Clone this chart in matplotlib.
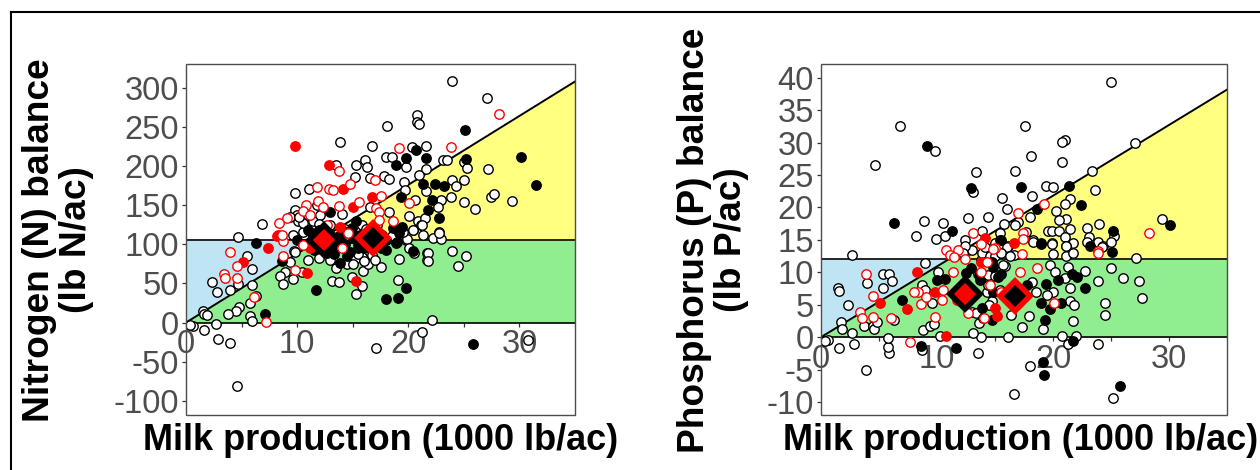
import numpy as np
import matplotlib
matplotlib.use("Agg")
import matplotlib.pyplot as plt
from matplotlib.lines import Line2D
from matplotlib.patches import Rectangle

plt.rcParams['font.family'] = ['Liberation Sans', 'DejaVu Sans']
plt.rcParams['axes.unicode_minus'] = False

# Nitrogen panel, values (milk, balance)
n_open = [(23.95,308),(27.07,286),(20.8,265),(20.8,256),(21.0,254),(18.1,251),(13.85,230.4),(16.76,225),
    (20.3,224),(21.6,225),(17.96,211.7),(18.5,211),(19.8,199),(16.07,207.4),(15.3,200.6),(16.3,198),
    (15.2,186),(16.6,185),(17.8,187.4),(18.3,182.7),(19.6,179.7),(19.7,169.5),(11.1,170.7),(9.83,164.8),
    (9.8,144),(9.95,137),(10.1,129.4),(10.8,127.7),(11.45,129),(12.1,137),(14.06,138),(13.5,201.4),
    (21.6,196),(21.0,188.6),(23.1,207.4),(23.5,207.4),(25,205),(25.3,197),(27.2,196),(23.9,181.8),
    (25,181.4),(24.3,173.7),(21.6,168),(20.6,156.7),(22.9,155.8),(22.7,147.7),(23.8,159.7),(25,153.3),
    (26,144.7),(27.4,160.5),(27.7,164),(29.3,155.4),(18.3,141.7),(20.1,135.4),(20.9,129),(21.1,124.7),
    (20.4,118),(21.3,112),(22.8,115),(22.2,107.6),(16.6,148),(6.8,126),(4.7,109),(9.65,112),(10.55,115),
    (5.46,85.5),(5.9,68),(2.37,51.4),(2.76,38.6),(3.96,41.6),(4.7,48.8),(5.97,48),(6.3,33.9),(5.8,24.5),
    (4.8,20.3),(4.47,14.3),(3.75,10.5),(1.5,14.7),(1.62,10.5),(1.9,9.6),(5.76,8.3),(5.97,2.4),(0.66,-4),
    (0.36,-3.2),(1.62,-9.6),(2.67,-1.5),(2.9,-20.7),(4,-26.2),(4.6,-80.8),(9.74,91.4),(9.4,77),(8.9,64),
    (8.5,59.9),(8.7,48.8),(9.65,55.2),(10.4,65),(13.1,53.5),(13.8,51.8),(13.46,70),(14.9,58.6),(15.8,47),
    (15.3,36),(15.9,66.3),(16.4,74.4),(17.5,71.4),(19.2,81.2),(16.7,86.3),(15.8,84),(15.2,81),(19.1,54.8),
    (19.8,105.5),(20.5,88.5),(21.7,88.5),(21.7,80),(23.9,91.4),(25.2,85),(24.5,72.7),(22.1,3.2),
    (21.25,-11.7),(17.1,-33),(30.8,-22.4),(22.9,106.8),(10.55,127),(9.35,135),(9.8,90.5),(12,126),(13,124),
    (14.3,120),(14.8,108),(15.3,118),(15.5,88),(17.5,100),(21.5,133),(20.4,118),(21.2,124.9),(22.8,114.8),
    (19.85,106.5),(21.8,89),(21.8,79),(20.1,95),(10.5,100),(11,80),(12,82),(13,80),(14.5,75),(15,75),(16,78),
    (17,80),(15.8,125),(16.2,120),(17.2,125),(18.5,110),(19.5,115),(10.2,135),(11,137),(11.8,150)]
n_black = [(25.1,246),(20.7,219.8),(19.8,210.4),(21.6,210),(18.9,200.6),(25.2,209),(30.1,211),(31.5,175),
    (21.3,177),(22.4,177),(23.2,174),(19.3,160.5),(22.1,155.8),(21.8,143.9),(22.8,133.7),(12.95,140.9),
    (15.3,129.8),(18.6,120.4),(19.4,122.5),(19.2,114),(14.9,120.4),(11.3,114),(9.95,105.5),(6.3,101),
    (11.7,42),(18,30.5),(19.1,30.9),(19.8,44),(25.8,-27.5),(7.1,10.5),(13.9,76.5),(20.4,91.4),(8.6,78.6),
    (12.05,94.8),(12.65,88.5),(14.75,90.6),(15.5,94.8),(18.95,103),(12,118),(13.9,112),(14.3,100),(11,100),
    (13.3,88),(14.2,95),(15,108),(15.5,100),(17.6,112),(18,92),(18.9,101),(11.5,108),(13.7,105),(11,118),
    (14,118),(14.5,85),(13.5,95),(11.5,92),(15.2,110),(15.7,112),(16,95),(17.5,95),(18,105)]
n_red = [(9.8,224.9),(12.9,201),(14.15,170.3),(16.7,159.7),(15,148),(13.85,121.7),(8.3,112),(8.2,110),
    (7.4,94.8),(5.1,77.8),(10.85,62.9),(15.3,53.5),(11.15,94.8)]
n_red_open = [(28.2,266),(23.8,224),(19.2,222.3),(13.8,193.3),(11.8,172.5),(12.9,170),(13.2,168.6),(14.8,177),
    (17,181.4),(17.5,161.8),(15.6,154),(20.1,152.4),(17.1,146),(17.4,141.3),(17.4,131),(18.6,130.2),
    (11.9,155),(10.8,150),(12.35,148),(13.8,149),(10.55,142.6),(11.2,137.5),(9.1,133.6),(8.4,127.3),
    (14.6,114),(12.65,125),(3.93,89.7),(3.4,62.5),(3.5,56.5),(4.56,72.3),(4.56,57.3),(6.1,32.6),(7.2,0.6),
    (9.8,67.1),(8.7,85),(8.7,104),(10.5,99),(14.05,95.7),(8.6,112)]

# Phosphorus panel
p_open = [(24.97,39.3),(6.78,32.5),(9.83,28.7),(4.66,26.6),(17.6,32.5),(21,30.4),(20.75,30.1),(18.1,27.9),
    (20.8,27),(13.4,25.4),(16.75,25.6),(27.1,29.9),(23.4,25.6),(13.1,22.4),(19.4,23.3),(20,23.1),(23.6,22.7),
    (15.6,21.4),(18.2,21.8),(16,19.8),(21.5,21.3),(21,20.5),(20.3,19.45),(18,18.5),(21.1,18.2),(20.5,18),
    (12.7,18.3),(14.4,18.5),(8.9,17.9),(10.5,17.65),(8.16,15.6),(9.9,15.2),(10.7,15.6),(12.4,14.9),(13.85,16.3),
    (15.8,17.5),(17,17.8),(16.7,17.3),(22.9,16.8),(24,17.5),(19.6,16.3),(19.9,16.4),(21.5,16.7),(20.5,16.4),
    (21,15.5),(23.1,15.5),(23.9,14.7),(25.3,15.6),(29.4,18.2),(18.3,14.9),(19.9,14.5),(21.75,14.5),(21.15,14),
    (22.9,14.6),(24.3,14.1),(25,14.7),(17.7,16.2),(15.4,16),(15,14.5),(16.1,14),(2.64,12.65),(27.15,12.2),
    (25,10.7),(26,9.05),(27.4,8.6),(27.7,6.1),(24.5,5.2),(24.5,3.4),(23.9,8.6),(21.75,2.5),(21.45,7.6),
    (21.5,5.6),(21.8,5),(22.75,10.2),(21.3,10.75),(20,12.75),(19.7,11.1),(20.2,10.1),(21,9.05),(20,7),
    (19.45,6.5),(19.1,1.2),(17.3,1.6),(17.9,3.2),(16.35,3.4),(18.5,6.9),(18.2,8.5),(20.8,0.15),(22,0.2),
    (21.25,-0.98),(23.9,-1.1),(16.1,0),(13.8,0),(13.1,0.6),(13.55,-2.4),(18,-4.4),(16.6,-8.7),(25.15,-9.4),
    (3.9,-5),(1.55,-1.6),(2.87,-1),(5.86,-2.5),(5.75,-1.5),(5.75,-0.2),(0.63,-0.46),(0.35,-0.6),(8.7,-2),
    (10.3,0.2),(8.8,1.1),(9.4,1.75),(9.74,2.1),(13.6,2.2),(1.72,2.4),(1.8,1.3),(2.64,0.67),(3.7,1.7),(4.5,1.7),
    (4.6,1.2),(4.8,2.4),(6.3,2.6),(1.44,7.5),(1.55,7.1),(2.3,5),(3.94,8.3),(5.37,9.7),(5.86,9.7),(6.15,8.6),
    (5.37,7.5),(9,11.4),(10.1,10.1),(8.7,8),(9.54,5.2),(8.97,7.3),(13,3.9),(14.3,7),(13.8,11.9),(15.9,11),
    (16.6,12.65),(13.85,12.9),(12.7,13.4),(16,13.9),(18.3,14.7),(19.9,14.35),(21.1,14),(21.1,12.5),(21.7,12.9),
    (24.2,13.9),(13,13.4),(14.1,13.9),(15.4,15),(14.4,8),(15.4,7.3),(15.7,11.1),(14.4,9.6),(13.4,3.7),(14,3),
    (12.4,14),(12.2,13),(14.6,12.5),(15,12.5),(15.5,13),(16.3,12.5),(15,9.5),(13.5,9.7),(14.7,5.6),(14.5,5)]
p_black = [(9.1,29.5),(12.9,23),(17.2,23.1),(21.35,23.25),(18.6,19.8),(22.4,20.3),(6.3,17.55),(11.3,16.3),
    (15.5,15),(19,14.5),(25.2,16.4),(30.1,17.35),(23.2,14),(25.1,13.2),(25.75,-7.5),(19.1,-3.8),(19.2,-5.9),
    (8.6,-1.3),(11.6,-1.6),(21.75,-0.6),(19.3,2.6),(19.7,4.3),(19,5.2),(20.7,5.3),(19.4,8.2),(20.4,8.8),
    (21.6,9.7),(22.1,9.2),(22.8,7.6),(17.8,8),(14.7,2.6),(13.9,4.5),(7,5.7),(10,8.8),(10.7,9),(12.9,10.6),
    (14.85,10.85),(15.3,9.3),(13.7,8.8),(19,14.35),(15.5,9.7),(14.7,11.6),(13.6,9.6),(12.5,9.9),(14.8,7)]
p_red = [(14.1,15.3),(16.6,14.5),(8.3,10),(5.05,5.2),(7.4,4.3),(9.8,6.9),(10.8,0.15),(15,4.5),(15.2,3.3),
    (13.8,11.6),(11.7,5.7)]
p_red_open = [(19.25,20.5),(17,19.2),(13.1,16),(13.8,14.3),(17.4,16),(17.4,15.2),(15,13.7),(10.8,13.5),(11.8,13.4),
    (28.25,16),(23.85,13.3),(14.8,13.6),(3.85,9.7),(4.5,6.4),(3.4,3.8),(3.5,3),(4.5,3.1),(6.06,3),(7.65,-0.8),
    (9.8,3.1),(8.6,5.1),(10.4,5.7),(10.55,7.25),(9.05,6.2),(8.4,7),(8.05,7),(11.35,10.1),(11.1,12.65),(11.5,12.3),
    (12.4,12),(14.3,11.6),(13.8,10),(17.3,12.8),(18.6,10.7),(17.15,10.1),(14.6,8),(20.1,5.3),(14.05,3),(12.7,3.75),
    (23.85,12.9),(15.5,7)]

n_mean_red = (12.4, 105.5)
n_mean_black = (16.8, 108)
p_mean_red = (12.4, 6.7)
p_mean_black = (16.7, 6.4)

n_limit, n_slope = 105, 8.79
p_limit, p_slope = 12, 1.09
n_yticks = [-100, -50, 0, 50, 100, 150, 200, 250, 300]
p_yticks = [-10, -5, 0, 5, 10, 15, 20, 25, 30, 35, 40]

W, H = 1260, 470
GRAY = '#4D4D4D'


def draw_panel(box, ylim, yticks, limit, slope, pts, means):
    l, t, r, b = box
    ax = fig.add_axes([l / W, 1 - b / H, (r - l) / W, (b - t) / H])
    ax.set_xlim(0, 35)
    ax.set_ylim(*ylim)
    ax.set_axisbelow(True)

    xc = limit / slope
    ax.fill_between([0, xc], [0, limit], [limit, limit], color='#BFE4F3', lw=0, zorder=0.1)
    ax.fill_between([0, xc, 35], [0, limit, limit], 0, color='#90EE90', lw=0, zorder=0.1)
    ax.fill_between([xc, 35], [limit, limit], [limit, slope * 35], color='#FFFF80', lw=0, zorder=0.1)
    ax.plot([0, 35], [0, slope * 35], color='k', lw=1.4, zorder=1)
    ax.plot([0, 35], [limit, limit], color='k', lw=1.2, zorder=1)
    ax.plot([0, 35], [0, 0], color='k', lw=1.2, zorder=1)

    opn, blk, red, red_open = [np.array(p).T for p in pts]
    ax.scatter(opn[0], opn[1], s=46, c='white', edgecolors='k', linewidths=1, zorder=3)
    ax.scatter(blk[0], blk[1], s=46, c='k', edgecolors='k', linewidths=1, zorder=3.1)
    ax.scatter(red[0], red[1], s=46, c='red', edgecolors='red', linewidths=1, zorder=3.2)
    ax.scatter(red_open[0], red_open[1], s=46, c='white', edgecolors='red', linewidths=1, zorder=3.3)
    ax.plot(*means[0], 'D', ms=15.5, mfc='red', mec='k', mew=4, zorder=4)
    ax.plot(*means[1], 'D', ms=15.5, mfc='k', mec='red', mew=4, zorder=4)

    for s in ax.spines.values():
        s.set_visible(False)
    ax.spines['bottom'].set_position(('data', 0))
    ax.add_patch(Rectangle((0, 0), 1, 1, transform=ax.transAxes, fill=False, ec=GRAY, lw=1, zorder=5, clip_on=False))

    ax.set_yticks(yticks)
    ax.set_xticks([0, 10, 20, 30])
    ax.set_xticks([5, 15, 25], minor=True)
    ax.tick_params(axis='y', labelsize=23.5, labelcolor=GRAY, color='#333333', length=3, width=0.9, pad=2)
    ax.tick_params(axis='x', which='both', labelsize=23.5, labelcolor=GRAY, color='#333333', length=3, width=0.9, pad=2)
    return ax


fig = plt.figure(figsize=(W / 100, H / 100), dpi=100)

draw_panel((186, 64, 575, 415), (-118, 330), n_yticks, n_limit, n_slope,
           (n_open, n_black, n_red, n_red_open), (n_mean_red, n_mean_black))
draw_panel((821, 64, 1227, 415), (-12, 42.1), p_yticks, p_limit, p_slope,
           (p_open, p_black, p_red, p_red_open), (p_mean_red, p_mean_black))

fig.add_artist(Line2D([10.5 / W, 10.5 / W], [0, 1 - 11.5 / H], color='k', lw=1.5))
fig.add_artist(Line2D([10.5 / W, 1], [1 - 11.5 / H, 1 - 11.5 / H], color='k', lw=1.5))

fig.text(381 / W, 1 - 440 / H, 'Milk production (1000 lb/ac)', fontsize=26, fontweight='bold', ha='center', va='center')
fig.text(1021 / W, 1 - 440 / H, 'Milk production (1000 lb/ac)', fontsize=26, fontweight='bold', ha='center', va='center')
fig.text(58 / W, 1 - 240 / H, 'Nitrogen (N) balance\n(lb N/ac)', fontsize=26.7, fontweight='bold', rotation=90,
         ha='center', va='center', linespacing=1.08)
fig.text(713 / W, 1 - 240 / H, 'Phosphorus (P) balance\n(lb P/ac)', fontsize=26.7, fontweight='bold', rotation=90,
         ha='center', va='center', linespacing=1.08)

fig.savefig("out.png", dpi=100)
